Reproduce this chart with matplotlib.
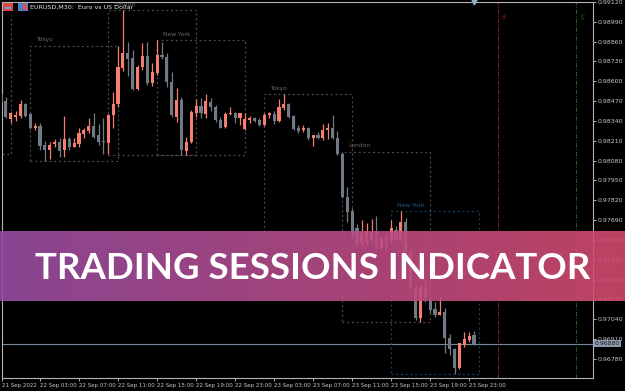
import numpy as np
import pandas as pd
import matplotlib
matplotlib.use("Agg")
import matplotlib.pyplot as plt
from matplotlib.patches import Rectangle
import matplotlib.transforms as mtransforms

# ---------------- data (EURUSD M30) ----------------
start_time = "2022-09-21 23:00"
opens = [0.98517, 0.98471, 0.98353, 0.98369, 0.98373, 0.98451, 0.98386, 0.98292, 0.98307, 0.98183,
         0.98150, 0.98187, 0.98204, 0.98150, 0.98222, 0.98171, 0.98187, 0.98255, 0.98276, 0.98307,
         0.98248, 0.98209, 0.98198, 0.98379, 0.98449, 0.98685, 0.98788, 0.98751, 0.98548, 0.98692,
         0.98766, 0.98587, 0.98653, 0.98773, 0.98761, 0.98597, 0.98368, 0.98478, 0.98143, 0.98204,
         0.98390, 0.98438, 0.98386, 0.98466, 0.98434, 0.98346, 0.98299, 0.98384, 0.98394, 0.98358,
         0.98285, 0.98346, 0.98361, 0.98346, 0.98314, 0.98379, 0.98384, 0.98340, 0.98427, 0.98451,
         0.98373, 0.98296, 0.98281, 0.98292, 0.98230, 0.98248, 0.98226, 0.98281, 0.98296, 0.98228,
         0.98124, 0.97844, 0.97750, 0.97639, 0.97540, 0.97547, 0.97560, 0.97619, 0.97507, 0.97586,
         0.97560, 0.97625, 0.97560, 0.97678, 0.97481, 0.97245, 0.97048, 0.97252, 0.97166, 0.97105,
         0.97068, 0.97086, 0.96915, 0.96845, 0.96723, 0.96872, 0.96904, 0.96937]
highs = [0.98523, 0.98497, 0.98399, 0.98407, 0.98478, 0.98460, 0.98392, 0.98329, 0.98325, 0.98209,
         0.98204, 0.98220, 0.98230, 0.98373, 0.98237, 0.98230, 0.98292, 0.98292, 0.98358, 0.98390,
         0.98320, 0.98358, 0.98386, 0.98532, 0.98832, 0.99067, 0.98860, 0.98805, 0.98707, 0.98853,
         0.98860, 0.98718, 0.98871, 0.98860, 0.98784, 0.98663, 0.98554, 0.98499, 0.98237, 0.98412,
         0.98484, 0.98493, 0.98517, 0.98489, 0.98445, 0.98368, 0.98401, 0.98434, 0.98401, 0.98394,
         0.98390, 0.98375, 0.98368, 0.98358, 0.98390, 0.98401, 0.98405, 0.98484, 0.98517, 0.98456,
         0.98379, 0.98314, 0.98314, 0.98302, 0.98248, 0.98270, 0.98318, 0.98325, 0.98379, 0.98274,
         0.98139, 0.97909, 0.97768, 0.97665, 0.97691, 0.97671, 0.97698, 0.97717, 0.97586, 0.97606,
         0.97691, 0.97652, 0.97750, 0.97704, 0.97507, 0.97265, 0.97265, 0.97311, 0.97193, 0.97155,
         0.97188, 0.97114, 0.96944, 0.96854, 0.96885, 0.96955, 0.96959, 0.96963]
lows = [0.98458, 0.98360, 0.98329, 0.98340, 0.98358, 0.98364, 0.98285, 0.98281, 0.98150, 0.98080,
        0.98089, 0.98171, 0.98106, 0.98106, 0.98150, 0.98167, 0.98171, 0.98226, 0.98259, 0.98226,
        0.98183, 0.98124, 0.98124, 0.98292, 0.98434, 0.98670, 0.98635, 0.98543, 0.98543, 0.98674,
        0.98576, 0.98569, 0.98641, 0.98744, 0.98565, 0.98368, 0.98335, 0.98117, 0.98117, 0.98194,
        0.98368, 0.98361, 0.98360, 0.98405, 0.98335, 0.98292, 0.98292, 0.98379, 0.98325, 0.98314,
        0.98281, 0.98325, 0.98335, 0.98307, 0.98309, 0.98361, 0.98318, 0.98335, 0.98412, 0.98361,
        0.98281, 0.98259, 0.98270, 0.98215, 0.98178, 0.98222, 0.98215, 0.98222, 0.98222, 0.98117,
        0.97833, 0.97680, 0.97573, 0.97521, 0.97521, 0.97527, 0.97540, 0.97494, 0.97494, 0.97501,
        0.97540, 0.97547, 0.97547, 0.97461, 0.97232, 0.97035, 0.97020, 0.97155, 0.97079, 0.97057,
        0.97065, 0.96819, 0.96806, 0.96680, 0.96714, 0.96860, 0.96893, 0.96872]
closes = [0.98464, 0.98366, 0.98392, 0.98379, 0.98451, 0.98373, 0.98294, 0.98307, 0.98178, 0.98150,
          0.98183, 0.98204, 0.98145, 0.98222, 0.98171, 0.98194, 0.98259, 0.98281, 0.98307, 0.98237,
          0.98204, 0.98200, 0.98379, 0.98449, 0.98692, 0.98784, 0.98744, 0.98548, 0.98696, 0.98766,
          0.98587, 0.98663, 0.98773, 0.98761, 0.98597, 0.98379, 0.98478, 0.98150, 0.98204, 0.98397,
          0.98438, 0.98390, 0.98474, 0.98434, 0.98346, 0.98296, 0.98384, 0.98394, 0.98358, 0.98390,
          0.98351, 0.98361, 0.98340, 0.98314, 0.98379, 0.98390, 0.98340, 0.98430, 0.98451, 0.98368,
          0.98287, 0.98274, 0.98296, 0.98226, 0.98248, 0.98226, 0.98281, 0.98296, 0.98226, 0.98122,
          0.97844, 0.97745, 0.97599, 0.97534, 0.97606, 0.97619, 0.97612, 0.97514, 0.97573, 0.97514,
          0.97639, 0.97560, 0.97678, 0.97481, 0.97245, 0.97047, 0.97252, 0.97178, 0.97101, 0.97068,
          0.97086, 0.96915, 0.96845, 0.96723, 0.96883, 0.96911, 0.96933, 0.96880]

price_ticks = [0.99120, 0.98990, 0.98860, 0.98730, 0.98600, 0.98470, 0.98340, 0.98210, 0.98080,
               0.97950, 0.97820, 0.97690, 0.97560, 0.97430, 0.97300, 0.97170, 0.97040, 0.96910, 0.96780]
price_tick_labels = ["0.99120", "0.98990", "0.98860", "0.98730", "0.98600", "0.98470", "0.98340",
                     "0.98210", "0.98080", "0.97950", "0.97820", "0.97690", "0.97560", "0.97430",
                     "0.97300", "0.97170", "0.97040", "0.96910", "0.96780"]

# sessions: name, start, end
session_names = ["Tokyo", "London", "New York", "Tokyo", "London", "New York"]
session_starts = ["2022-09-22 02:00", "2022-09-22 10:00", "2022-09-22 15:00",
                  "2022-09-23 02:00", "2022-09-23 10:00", "2022-09-23 15:00"]
session_ends = ["2022-09-22 11:00", "2022-09-22 19:00", "2022-09-23 00:00",
                "2022-09-23 11:00", "2022-09-23 19:00", "2022-09-24 00:00"]
session_colors = ["#4a4a4a", "#4a4a4a", "#4a4a4a", "#4a4a4a", "#4a4a4a", "#17405e"]
label_colors = ["#6a6a6a", "#6a6a6a", "#6a6a6a", "#6a6a6a", "#6a6a6a", "#1f5f8f"]
# previous (21 Sep) New York session, only its end is visible
prev_session_end = "2022-09-22 00:00"
prev_session_high = 0.99035
prev_session_low = 0.98124

future_lines = ["2022-09-24 02:00", "2022-09-24 10:00"]
future_labels = ["To", "Lo"]
future_colors = ["#7a1f1f", "#1f5a1f"]

current_price = 0.96880
title = "EURUSD,M30:  Euro vs US Dollar"
banner_text = "TRADING SESSIONS INDICATOR"

# ---------------- helpers ----------------
t0 = pd.Timestamp(start_time)
times = pd.date_range(start_time, periods=len(opens), freq="30min")
def idx(t):
    return (pd.Timestamp(t) - t0) / pd.Timedelta("30min")

W, H = 625, 391
fig = plt.figure(figsize=(W / 100, H / 100), dpi=100, facecolor="black")
ax = fig.add_axes([2 / W, (H - 378) / H, 591 / W, 376 / H], facecolor="black")

x_left, x_right = 0.2, 121.4
ax.set_xlim(x_left, x_right)
ax.set_ylim(0.966552, 0.991200)

up_c = "#f47f6e"
dn_c = "#6f7a84"
o = np.array(opens); h = np.array(highs); l = np.array(lows); c = np.array(closes)
x = np.arange(len(o))
cols = [up_c if cc >= oo else dn_c for oo, cc in zip(o, c)]
ax.vlines(x, l, h, colors=cols, linewidth=0.9, zorder=3)
body_bot = np.minimum(o, c)
body_h = np.maximum(np.abs(c - o), 0.000035)
ax.bar(x, body_h, bottom=body_bot, width=0.64, color=cols, linewidth=0, zorder=4)

# session boxes
dot = (0, (1.6, 2.2))
for name, s, e, col, lc in zip(session_names, session_starts, session_ends, session_colors, label_colors):
    i0, i1 = idx(s), idx(e)
    sel = (x >= i0) & (x <= i1)
    hi, lo = h[sel].max(), l[sel].min()
    ax.add_patch(Rectangle((i0, lo), i1 - i0, hi - lo, fill=False, edgecolor=col,
                           linewidth=0.9, linestyle=dot, zorder=2))
    ax.annotate(name, (i0, hi), xytext=(4, 2.5), textcoords="offset points",
                fontsize=4.3, color=lc, ha="left", va="bottom", zorder=2,
                annotation_clip=False, clip_on=True)
pe = idx(prev_session_end)
ax.plot([x_left, pe, pe], [prev_session_low, prev_session_low, prev_session_high],
        color="#4a4a4a", linewidth=0.9, linestyle=dot, zorder=2)

# future session start lines
for t, lab, col in zip(future_lines, future_labels, future_colors):
    xi = idx(t)
    ax.axvline(xi, color=col, linewidth=0.8, linestyle=(0, (4, 1.5, 1, 1.5)), zorder=2)
    ax.text(xi + 0.4, 0.9905, lab, rotation=-90, fontsize=4.5, color=col,
            ha="left", va="top", zorder=2)

# current price line and label
ax.axhline(current_price, color="#778899", linewidth=0.8, zorder=1)
trans = mtransforms.blended_transform_factory(ax.transAxes, ax.transData)
ax.text(1.003, current_price, f"{current_price:.5f}", transform=trans, fontsize=4.4,
        color="#1a1a1a", ha="left", va="center", clip_on=False, zorder=6,
        bbox=dict(boxstyle="square,pad=0.18", facecolor="#8a9bb0", edgecolor="none"))

# shift marker
ax.plot([len(o) - 1], [0.99118], marker="v", markersize=3.5, color="#8fb0c8",
        clip_on=False, zorder=6)

# axes styling
for sp in ax.spines.values():
    sp.set_color("#b4b4b4")
    sp.set_linewidth(0.8)
ax.yaxis.tick_right()
ax.set_yticks(price_ticks)
ax.set_yticklabels(price_tick_labels)
ax.tick_params(axis="y", colors="#c8c8c8", labelsize=4.5, length=2.5, width=0.6, pad=1)

tick_pos = [x_left] + list(range(8, 97, 8))
tick_labels = ["21 Sep 2022"] + [times[i].strftime("%d Sep %H:%M") if i < len(times)
                                 else (t0 + pd.Timedelta(minutes=30 * i)).strftime("%d Sep %H:%M")
                                 for i in range(8, 97, 8)]
ax.set_xticks(tick_pos)
ax.set_xticklabels(tick_labels)
ax.tick_params(axis="x", colors="#c8c8c8", labelsize=4.0, length=2.5, width=0.6, pad=1.2)
for lbl in ax.get_xticklabels():
    lbl.set_ha("left")

# title and icons
fig.patches.append(Rectangle((3 / W, (H - 11) / H), 10 / W, 8 / H, transform=fig.transFigure,
                             facecolor="#d84a4a", edgecolor="none"))
fig.patches.append(Rectangle((5 / W, (H - 9) / H), 6 / W, 2 / H, transform=fig.transFigure,
                             facecolor="#6fa0d8", edgecolor="none"))
fig.patches.append(Rectangle((18 / W, (H - 11) / H), 10 / W, 8 / H, transform=fig.transFigure,
                             facecolor="#4a7fc8", edgecolor="none"))
fig.patches.append(Rectangle((23 / W, (H - 10) / H), 4 / W, 6 / H, transform=fig.transFigure,
                             facecolor="#e05050", edgecolor="none"))
fig.text(30 / W, (H - 7) / H, title, fontsize=4.6, color="#e6e6e6", ha="left", va="center")

# banner
bax = fig.add_axes([0, (H - 301) / H, 1, 70 / H], zorder=10)
grad = np.linspace(0, 1, 256)
left_rgb = np.array([0.60, 0.30, 0.64])
right_rgb = np.array([0.83, 0.29, 0.43])
img = left_rgb[None, :] * (1 - grad[:, None]) + right_rgb[None, :] * grad[:, None]
bax.imshow(img[None, :, :], aspect="auto", extent=(0, 1, 0, 1), alpha=0.9)
bax.set_xlim(0, 1); bax.set_ylim(0, 1)
bax.axis("off")
bax.text(0.50, 0.47, banner_text, fontsize=26.4, fontfamily="Lato", fontweight="bold",
         color="white", ha="center", va="center")

fig.savefig("out.png", dpi=100, facecolor="black")
